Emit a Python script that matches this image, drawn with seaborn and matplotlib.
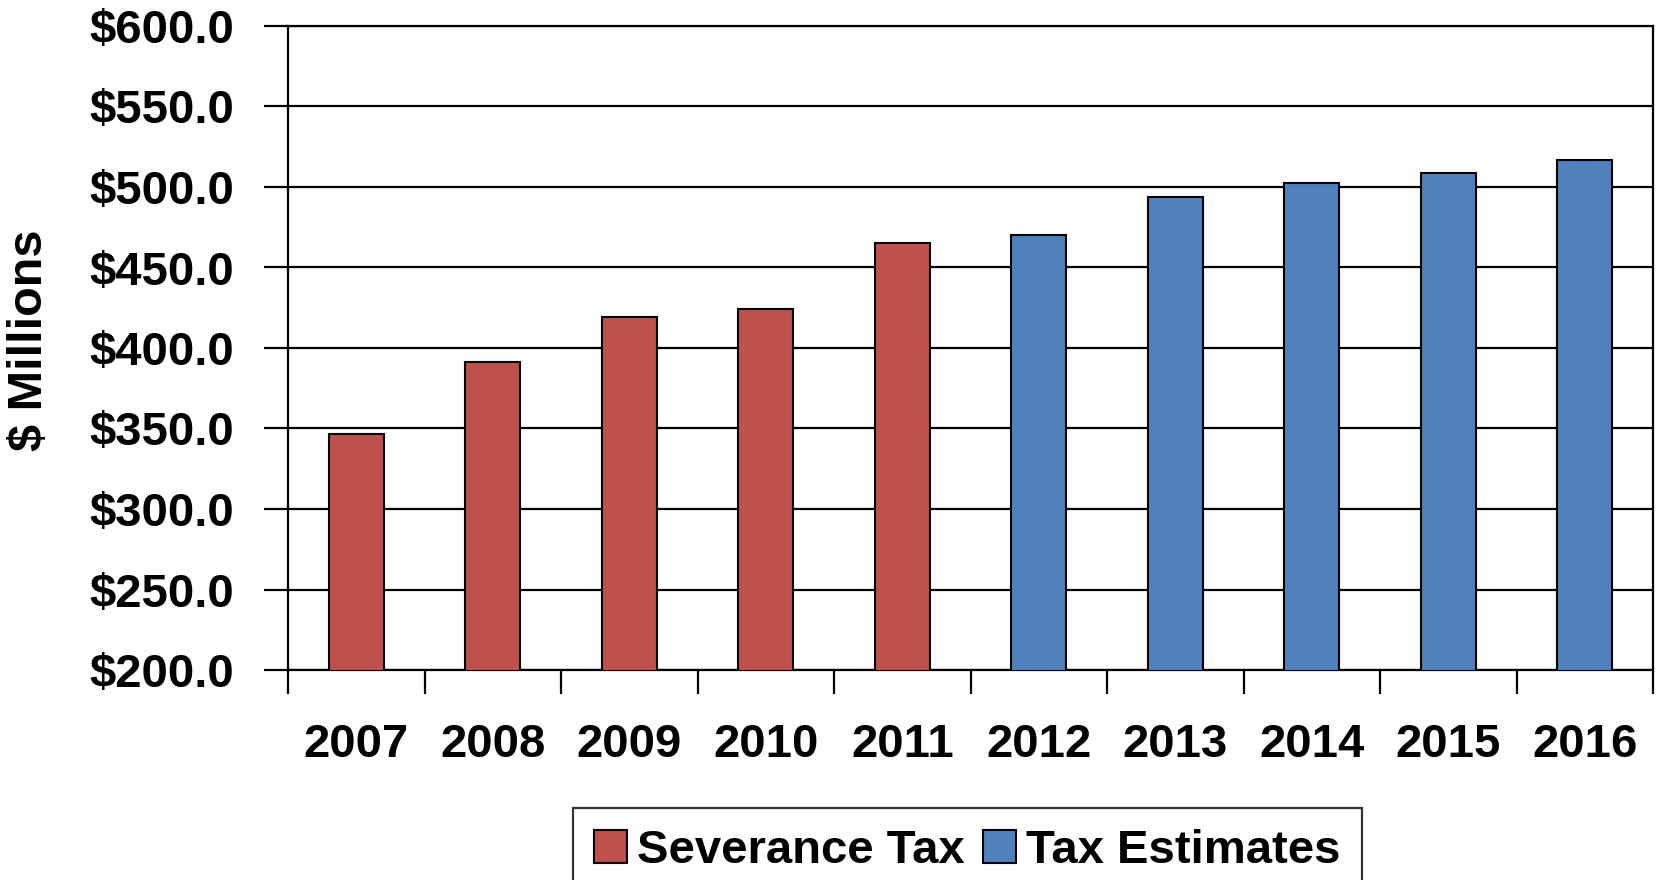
import numpy as np
import pandas as pd
import matplotlib.pyplot as plt
import seaborn as sns
from matplotlib.ticker import FuncFormatter, MultipleLocator, FixedLocator

years = ["2007", "2008", "2009", "2010", "2011", "2012", "2013", "2014", "2015", "2016"]
values = [346.5, 391.0, 419.0, 424.5, 465.0, 470.0, 493.5, 502.3, 508.5, 517.0]
series = ["Severance Tax"] * 5 + ["Tax Estimates"] * 5
colors = {"Severance Tax": "#C0504D", "Tax Estimates": "#4F81BD"}

df = pd.DataFrame({"Year": years, "Value": values, "Series": series})

sns.set_style("white")
plt.rcParams['font.family'] = ['Liberation Sans', 'DejaVu Sans']
plt.rcParams['font.weight'] = 'bold'
plt.rcParams['text.color'] = 'black'
plt.rcParams['xtick.color'] = 'black'
plt.rcParams['ytick.color'] = 'black'

fig = plt.figure(figsize=(16.61, 8.8), dpi=100)
ax = fig.add_axes([288/1661, 1 - 670/880, (1653 - 288)/1661, (670 - 26)/880])

sns.barplot(data=df, x="Year", y="Value", hue="Series", dodge=False, width=0.4,
            palette=colors, saturation=1, edgecolor="black", linewidth=1.5,
            ax=ax, legend=False, zorder=3)

ax.set_ylim(200, 600)
ax.set_xlim(-0.5, 9.5)
ax.yaxis.set_major_locator(MultipleLocator(50))
ax.yaxis.set_major_formatter(FuncFormatter(lambda v, p: f"${v:.1f}"))
ax.grid(axis="y", color="black", linewidth=1.6, zorder=0)
ax.grid(axis="x", visible=False)
for s in ax.spines.values():
    s.set_color("black")
    s.set_linewidth(1.6)

ax.tick_params(axis="y", direction="out", length=17, width=1.6, color="black",
               labelsize=34, pad=22, left=True, labelcolor="black")
ax.xaxis.set_minor_locator(FixedLocator(np.arange(-0.5, 10, 1)))
ax.tick_params(axis="x", which="minor", direction="out", length=17, width=1.6,
               color="black", bottom=True)
ax.tick_params(axis="x", which="major", length=0, labelsize=34, pad=38, labelcolor="black")
for lbl in ax.get_xticklabels() + ax.get_yticklabels():
    lbl.set_fontweight("bold")

ax.set_xlabel("")
ax.set_ylabel("")
fig.text(30/1661, 1 - 340/880, "$ Millions", fontsize=35, fontweight="bold",
         rotation=90, ha="center", va="center", color="black")

handles = [plt.Rectangle((0, 0), 1, 1, facecolor=colors[k], edgecolor="black", linewidth=1.5)
           for k in ["Severance Tax", "Tax Estimates"]]
leg = fig.legend(handles, ["Severance Tax", "Tax Estimates"], loc="upper left",
                 bbox_to_anchor=(573/1661, 1 - 808/880), ncol=2, fontsize=34,
                 frameon=True, fancybox=False, edgecolor="black", handlelength=0.7,
                 handleheight=0.7, handletextpad=0.2, columnspacing=0.4,
                 borderpad=0.45, borderaxespad=0)
leg.get_frame().set_linewidth(1.6)
for t in leg.get_texts():
    t.set_fontweight("bold")
    t.set_color("black")

fig.savefig("out.png", dpi=100)
